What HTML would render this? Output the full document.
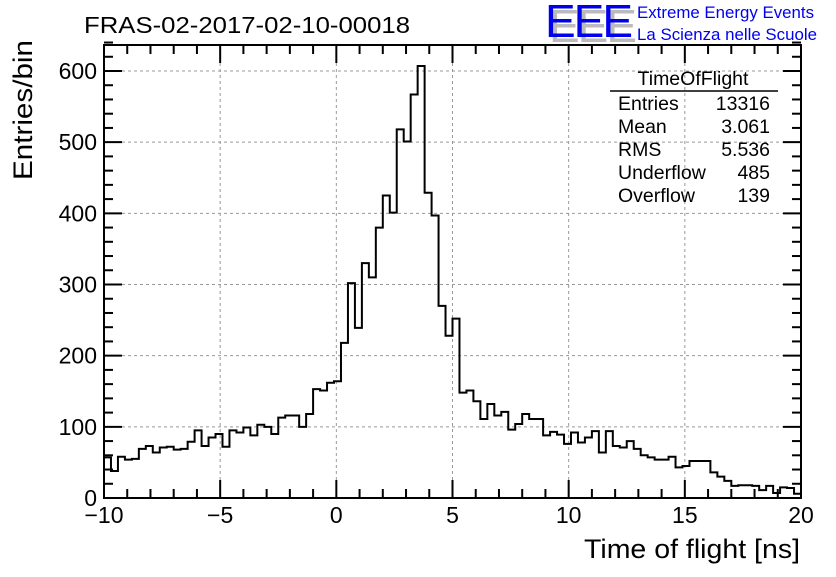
<!DOCTYPE html>
<html><head><meta charset="utf-8"><style>
body{margin:0;background:#fff}
svg text{font-family:"Liberation Sans",sans-serif}
</style></head><body>
<svg id="c" width="836" height="572" xmlns="http://www.w3.org/2000/svg">
<rect width="836" height="572" fill="#fff"/>
<text x="84" y="33" font-size="23" textLength="326" lengthAdjust="spacingAndGlyphs">FRAS-02-2017-02-10-00018</text>
<g>
<text x="549" y="42" font-size="46" fill="#bbb" letter-spacing="-2">EEE</text>
<text x="545" y="37" font-size="46" fill="#0000ee" letter-spacing="-2">EEE</text>
<text x="637" y="18" font-size="16.5" fill="#0000ee" textLength="177" lengthAdjust="spacingAndGlyphs">Extreme Energy Events</text>
<text x="637" y="40" font-size="16.5" fill="#0000ee" textLength="180" lengthAdjust="spacingAndGlyphs">La Scienza nelle Scuole</text>
</g>
<g id="grid"></g>
<g id="hist"></g>
<g id="axes"></g>
<g font-size="19.5">
<text x="693" y="85" text-anchor="middle">TimeOfFlight</text>
<line x1="610" y1="91" x2="778" y2="91" stroke="#000" stroke-width="1.5"/>
<text x="618" y="110">Entries</text><text x="770" y="110" text-anchor="end">13316</text>
<text x="618" y="133">Mean</text><text x="770" y="133" text-anchor="end">3.061</text>
<text x="618" y="156">RMS</text><text x="770" y="156" text-anchor="end">5.536</text>
<text x="618" y="179">Underflow</text><text x="770" y="179" text-anchor="end">485</text>
<text x="618" y="202">Overflow</text><text x="770" y="202" text-anchor="end">139</text>
</g>
<text x="800" y="558" font-size="27" text-anchor="end" textLength="216" lengthAdjust="spacingAndGlyphs">Time of flight [ns]</text>
<text transform="translate(32,40) rotate(-90)" font-size="27" text-anchor="end" textLength="140" lengthAdjust="spacingAndGlyphs">Entries/bin</text>
</svg>
<script>
const counts=[57,38,58,54,55,69,73,64,71,72,68,69,79,95,73,85,90,72,95,92,99,88,103,100,90,113,116,116,100,118,153,151,162,164,218,302,239,330,310,380,425,401,518,501,567,607,429,397,270,228,252,148,151,136,111,132,116,121,96,104,118,111,111,88,93,89,76,92,78,85,94,64,94,73,71,80,69,60,57,54,54,58,43,45,52,52,52,36,30,24,17,18,18,17,11,17,7,15,14,6];
const xRange=[-10,20];
const yRange=[0,650];
const xTicks=[-10,-5,0,5,10,15,20];
const yTicks=[0,100,200,300,400,500,600];
const L=104,R=801,T=45,B=498;
const X=v=>L+(v-xRange[0])/(xRange[1]-xRange[0])*(R-L);
const Y=v=>B-(v-yRange[0])*(427/600);
const NS="http://www.w3.org/2000/svg";
function mk(p,t,a){const e=document.createElementNS(NS,t);for(const k in a)e.setAttribute(k,a[k]);document.getElementById(p).appendChild(e);return e;}
for(const t of xTicks.slice(1,-1)){const g=mk('grid','line',{x1:X(t),x2:X(t),y1:T,y2:B,stroke:'#999','stroke-dasharray':'3,3'});

}
for(const t of yTicks.slice(1)){const g=mk('grid','line',{x1:L,x2:R,y1:Y(t),y2:Y(t),stroke:'#999','stroke-dasharray':'3,3'});

}
const w=(xRange[1]-xRange[0])/counts.length;
let d='M'+X(xRange[0])+','+Y(0);
counts.forEach((c,i)=>{d+=' L'+X(xRange[0]+i*w)+','+Y(c)+' L'+X(xRange[0]+(i+1)*w)+','+Y(c);});
d+=' L'+X(xRange[1])+','+Y(0);
const h=mk('hist','path',{d:d,fill:'none',stroke:'#000','stroke-width':2});


const f=mk('axes','rect',{x:L,y:T,width:R-L,height:B-T,fill:'none',stroke:'#000','stroke-width':2});


for(let v=xRange[0];v<=xRange[1];v++){const maj=v%5===0,len=maj?18:9;
mk('axes','line',{x1:X(v),x2:X(v),y1:B,y2:B-len,stroke:'#000','stroke-width':2});
mk('axes','line',{x1:X(v),x2:X(v),y1:T,y2:T+len,stroke:'#000','stroke-width':2});}
for(const t of xTicks){const e=mk('axes','text',{x:X(t),y:523,'font-size':23,'text-anchor':'middle'});e.textContent=(t<0?'\u2212'+(-t):t);

}
for(let v=0;v<=640;v+=20){const maj=v%100===0,len=maj?18:9;
mk('axes','line',{x1:L,x2:L+len,y1:Y(v),y2:Y(v),stroke:'#000','stroke-width':2});
mk('axes','line',{x1:R,x2:R-len,y1:Y(v),y2:Y(v),stroke:'#000','stroke-width':2});}
for(const t of yTicks){const e=mk('axes','text',{x:97,y:Y(t)+8,'font-size':23,'text-anchor':'end'});e.textContent=t;

}
</script>
</body></html>
